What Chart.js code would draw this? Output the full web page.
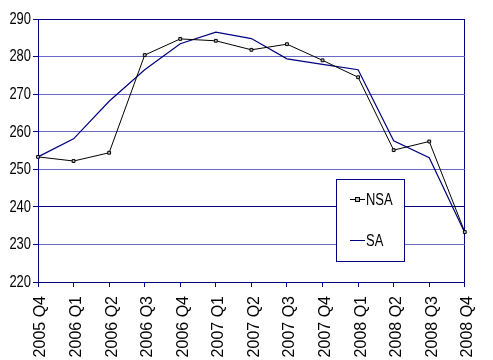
<!DOCTYPE html>
<html>
<head>
<meta charset="utf-8">
<script src="https://cdn.jsdelivr.net/npm/chart.js@4/dist/chart.umd.min.js"></script>
<style>
  html, body { margin: 0; padding: 0; background: #ffffff; }
  #wrap { width: 493px; height: 360px; }
</style>
</head>
<body>
<div id="wrap"><canvas id="c" width="493" height="360"></canvas></div>
<script>
// Quarterly index, not seasonally adjusted (NSA) vs seasonally adjusted (SA)
const quarters = ['2005 Q4','2006 Q1','2006 Q2','2006 Q3','2006 Q4','2007 Q1','2007 Q2',
                  '2007 Q3','2007 Q4','2008 Q1','2008 Q2','2008 Q3','2008 Q4'];
const nsaValues = [253.3, 252.2, 254.4, 280.4, 284.7, 284.2, 281.8, 283.3, 279.0, 274.5, 255.1, 257.4, 233.3];
const saValues  = [253.3, 258.1, 268.1, 276.5, 283.4, 286.5, 284.8, 279.4, 277.9, 276.5, 257.6, 253.1, 233.1];
const yTicks = [220, 230, 240, 250, 260, 270, 280, 290];

const NAVY = '#000080';
const FONT = '"Liberation Sans", Arial, sans-serif';
const SQUEEZE = 0.81;   // horizontal squeeze for the compact value/legend lettering

// Draw a string squeezed horizontally, anchored at (x, y)
function squeezedText(ctx, text, x, y, align) {
  ctx.save();
  ctx.translate(x, y);
  ctx.scale(SQUEEZE, 1);
  ctx.textAlign = align;
  ctx.fillText(text, 0, 0);
  ctx.restore();
}

// Value labels of the left axis, in compact lettering
const compactYLabels = {
  id: 'compactYLabels',
  afterDraw(chart) {
    const y = chart.scales.y;
    const ctx = chart.ctx;
    ctx.save();
    ctx.font = '16px ' + FONT;
    ctx.fillStyle = '#000000';
    ctx.textBaseline = 'middle';
    yTicks.forEach(v => {
      squeezedText(ctx, String(v), y.right - 7, y.getPixelForValue(v) + 0.5, 'right');
    });
    ctx.restore();
  }
};

// Boxed legend sitting inside the plot area
const boxLegend = {
  id: 'boxLegend',
  afterDraw(chart) {
    const ctx = chart.ctx;
    const x0 = 336, y0 = 179, w = 68, h = 82;
    ctx.save();
    ctx.fillStyle = '#ffffff';
    ctx.fillRect(x0, y0, w, h);
    ctx.strokeStyle = NAVY;
    ctx.lineWidth = 1;
    ctx.strokeRect(x0 + 0.5, y0 + 0.5, w, h);
    ctx.font = '16px ' + FONT;
    ctx.textBaseline = 'middle';
    const rows = [20.5, 61.5];
    chart.data.datasets.forEach((ds, i) => {
      const y = y0 + rows[i];
      ctx.strokeStyle = ds.borderColor;
      ctx.lineWidth = 1;
      ctx.beginPath();
      ctx.moveTo(x0 + 14, y);
      ctx.lineTo(x0 + 29, y);
      ctx.stroke();
      if (ds.pointRadius > 0) {
        ctx.fillStyle = ds.pointBackgroundColor;
        ctx.fillRect(x0 + 19.5, y - 2, 4, 4);
        ctx.strokeStyle = ds.pointBorderColor;
        ctx.strokeRect(x0 + 19.5, y - 2, 4, 4);
      }
      ctx.fillStyle = '#000000';
      squeezedText(ctx, ds.label, x0 + 30, y + 1, 'left');
    });
    ctx.restore();
  }
};

new Chart(document.getElementById('c'), {
  type: 'line',
  data: {
    labels: quarters,
    datasets: [
      {
        label: 'NSA',
        data: nsaValues,
        borderColor: '#000000',
        borderWidth: 1,
        pointStyle: 'rect',
        pointRadius: 2,
        pointBackgroundColor: '#bdbdbd',
        pointBorderColor: '#000000',
        pointBorderWidth: 1,
        tension: 0
      },
      {
        label: 'SA',
        data: saValues,
        borderColor: NAVY,
        borderWidth: 1.2,
        pointRadius: 0,
        tension: 0
      }
    ]
  },
  options: {
    responsive: false,
    animation: false,
    events: [],
    layout: { padding: { top: 19, right: 11, left: 0, bottom: 0 }, autoPadding: false },
    plugins: { legend: { display: false }, tooltip: { enabled: false } },
    scales: {
      x: {
        offset: false,
        afterFit(scale) { scale.height = 78; },
        border: { color: NAVY, width: 1 },
        grid: {
          drawOnChartArea: true,
          color: (c) => (c.index === quarters.length - 1 ? NAVY : 'rgba(0,0,0,0)'),
          tickColor: NAVY,
          tickLength: 5
        },
        ticks: {
          autoSkip: false,
          maxRotation: 90,
          minRotation: 90,
          padding: 9,
          labelOffset: 3,
          color: '#000000',
          font: { family: FONT, size: 16 }
        }
      },
      y: {
        min: 220,
        max: 290,
        afterFit(scale) { scale.width = 38; },
        afterBuildTicks(scale) { scale.ticks = yTicks.map(v => ({ value: v })); },
        border: { color: NAVY, width: 1 },
        grid: {
          color: (c) => {
            const v = c.tick ? c.tick.value : null;
            return (v === 240 || v === 290) ? NAVY : '#6a6ac6';
          },
          tickColor: NAVY,
          tickLength: 5
        },
        ticks: {
          display: false,
          stepSize: 10
        }
      }
    }
  },
  plugins: [compactYLabels, boxLegend]
});
</script>
</body>
</html>
